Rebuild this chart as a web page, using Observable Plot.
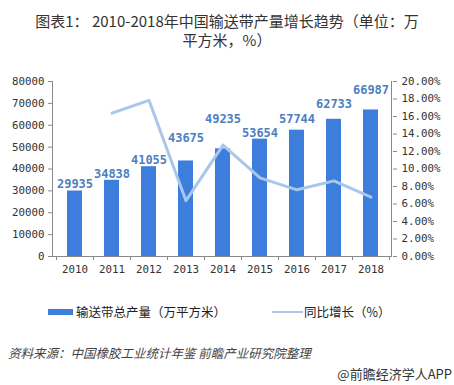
<!DOCTYPE html>
<html><head><meta charset="utf-8">
<script src="https://cdn.jsdelivr.net/npm/d3@7"></script>
<script src="https://cdn.jsdelivr.net/npm/@observablehq/plot@0.6"></script>
<style>
body{margin:0;background:#fff;}
#wrap{position:relative;width:454px;height:385px;background:#fff;font-family:"Noto Sans CJK SC","Noto Sans",sans-serif;color:#333;overflow:hidden;}
.abs{position:absolute;white-space:nowrap;}
</style></head>
<body>
<div id="wrap">
  <div class="abs" id="title" style="left:0;width:454px;top:11px;text-align:center;font-size:15px;line-height:19px;color:#333;"></div>
  <div class="abs" id="chart" style="left:0;top:60px;"></div>
  <div class="abs" id="leg1sw" style="left:48px;top:309px;width:25px;height:6px;background:#3d7edc;"></div>
  <div class="abs" id="leg1" style="left:76px;top:304px;font-size:12.5px;line-height:16px;color:#222;"></div>
  <div class="abs" id="leg2sw" style="left:272px;top:311px;width:31px;height:2px;background:#a9c6ec;"></div>
  <div class="abs" id="leg2" style="left:304px;top:304px;font-size:12.5px;line-height:16px;color:#222;"></div>
  <div class="abs" id="source" style="left:8px;top:345px;font-size:12.5px;line-height:16px;font-style:italic;color:#444;"></div>
  <div class="abs" id="credit" style="right:2px;top:366px;font-size:13px;line-height:16px;color:#333;"></div>
</div>
<script>
const titleLines = ["图表1： 2010-2018年中国输送带产量增长趋势（单位：万", "平方米，%）"];
const years = ["2010","2011","2012","2013","2014","2015","2016","2017","2018"];
const output = [29935, 34838, 41055, 43675, 49235, 53654, 57744, 62733, 66987];
const growthYears = ["2011","2012","2013","2014","2015","2016","2017","2018"];
const growth = [16.38, 17.85, 6.38, 12.73, 8.98, 7.62, 8.64, 6.78];
const leftTicks = [0,10000,20000,30000,40000,50000,60000,70000,80000];
const rightTickLabels = ["0.00%","2.00%","4.00%","6.00%","8.00%","10.00%","12.00%","14.00%","16.00%","18.00%","20.00%"];
const seriesNames = ["输送带总产量（万平方米）", "同比增长（%）"];
const sourceText = "资料来源：中国橡胶工业统计年鉴 前瞻产业研究院整理";
const creditText = "@前瞻经济学人APP";

document.getElementById("title").innerHTML = titleLines.join("<br>");
document.getElementById("leg1").textContent = seriesNames[0];
document.getElementById("leg2").textContent = seriesNames[1];
document.getElementById("source").textContent = sourceText;
document.getElementById("credit").textContent = creditText;

const rightMax = 20;
const leftMax = 80000;
const ratio = leftMax / rightMax;
const rightTicks = rightTickLabels.map((_, i) => i * 2 * ratio);

const bars = years.map((y, i) => ({year: y, value: output[i]}));
const line = growthYears.map((y, i) => ({year: y, g: growth[i]}));
const labelDy = [-7, -6, -7, -23, -30, -6, -11, -15, -20];

const labelMarks = bars.map((d, i) => Plot.text([d], {
  x: "year", y: "value", text: d => String(d.value), dy: labelDy[i],
  fill: "#4d7fbf", fontWeight: "bold", fontSize: 12, fontFamily: "DejaVu Sans Mono"
}));

const chart = Plot.plot({
  width: 454, height: 230,
  marginTop: 21, marginBottom: 34, marginLeft: 52, marginRight: 62,
  style: {fontFamily: "DejaVu Sans Mono", fontSize: "10.8px", color: "#333", background: "transparent", overflow: "visible"},
  x: {domain: years, paddingInner: 0.6, paddingOuter: 0.3, axis: null},
  y: {domain: [0, leftMax], axis: null},
  marks: [
    Plot.barY(bars, {x: "year", y: "value", fill: "#3d7edc"}),
    Plot.lineY(line, {x: "year", y: d => d.g * ratio, stroke: "#a9c6ec", strokeWidth: 3}),
    ...labelMarks,
    Plot.axisY({anchor: "left", ticks: leftTicks, tickSize: 4, tickPadding: 4, stroke: "#888", fill: "#333", label: null,
      tickFormat: d => String(d)}),
    Plot.axisY({anchor: "right", ticks: rightTicks, tickSize: 4, tickPadding: 5, stroke: "#888", fill: "#333", label: null,
      tickFormat: d => rightTickLabels[Math.round(d / (2 * ratio))]}),
    Plot.axisX({tickSize: 0, tickPadding: 9, fill: "#333", label: null}),
    Plot.ruleY([0], {stroke: "#888"})
  ]
});
document.getElementById("chart").appendChild(chart);

// axis lines and boundary ticks drawn from the library's scales
const xs = chart.scale("x"), ys = chart.scale("y");
const svg = d3.select(chart);
const g = svg.append("g").attr("stroke", "#888").attr("stroke-width", 1);
const y0 = ys.apply(0), yTop = ys.apply(leftMax);
const xl = xs.range[0], xr = xs.range[1];
g.append("line").attr("x1", xl + 0.5).attr("x2", xl + 0.5).attr("y1", yTop).attr("y2", y0);
g.append("line").attr("x1", xr - 0.5).attr("x2", xr - 0.5).attr("y1", yTop).attr("y2", y0);
const off = (xs.step - xs.bandwidth) / 2;
const bounds = years.map(y => xs.apply(y) - off).concat([xs.apply(years[years.length - 1]) + xs.bandwidth + off]);
bounds.forEach(b => g.append("line").attr("x1", Math.round(b) + 0.5).attr("x2", Math.round(b) + 0.5).attr("y1", y0).attr("y2", y0 + 4));
</script>
</body></html>
